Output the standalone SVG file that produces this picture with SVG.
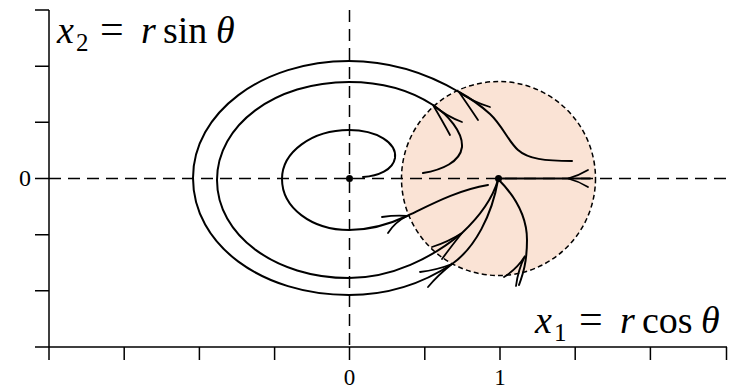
<svg xmlns="http://www.w3.org/2000/svg" width="729" height="389" viewBox="0 0 729 389">
<style>
.ax{stroke:#000;stroke-width:1.5;fill:none}
.dash{stroke:#000;stroke-width:1.5;fill:none;stroke-dasharray:12 7}
.cur{stroke:#000;stroke-width:2;fill:none;stroke-linecap:round}
.arr{stroke:#000;stroke-width:1.8;fill:none;stroke-linecap:round;stroke-linejoin:miter}
.lab{font-family:"Liberation Serif","Times New Roman",serif;fill:#000}
.it{font-style:italic}
</style>
<rect width="729" height="389" fill="#fff"/>
<g id="region">
<circle cx="498.5" cy="178.5" r="97" fill="#fae3d5" stroke="#000" stroke-width="1.5" stroke-dasharray="5 3.2"/>
</g>
<g id="axes">
<path class="ax" d="M49,10 V360 M35,347 H727"/>
<path class="ax" d="M35,10 H49 M35,66.2 H49 M35,122.3 H49 M35,178.5 H49 M35,234.7 H49 M35,290.8 H49"/>
<path class="ax" d="M124.2,347 V360 M199.4,347 V360 M274.6,347 V360 M349.5,347 V360 M424.8,347 V360 M500,347 V360 M575.2,347 V360 M650.4,347 V360 M726.5,347 V360"/>
<path class="dash" d="M49,178.5 H729"/>
<path class="dash" d="M349.5,10 V347"/>
<text class="lab" x="25" y="186" font-size="24" text-anchor="middle">0</text>
<text class="lab" x="349.5" y="385" font-size="23" text-anchor="middle">0</text>
<text class="lab" x="500" y="385" font-size="23" text-anchor="middle">1</text>
</g>
<g id="label-x2" class="lab" font-size="38">
<text x="57" y="43" class="it">x</text>
<text x="76" y="51" font-size="25">2</text>
<text x="100" y="43" font-size="42">=</text>
<text x="141" y="43" class="it">r</text>
<text x="163" y="43">sin</text>
<text x="216" y="43" class="it">θ</text>
</g>
<g id="label-x1" class="lab" font-size="38">
<text x="535" y="333" class="it">x</text>
<text x="554" y="341" font-size="25">1</text>
<text x="579" y="333" font-size="42">=</text>
<text x="620" y="333" class="it">r</text>
<text x="642" y="333">cos</text>
<text x="701" y="333" class="it">θ</text>
</g>
<g id="connectors">
<path class="cur" d="M363,177 C378,176 393,170 395,158 C397,143 377,130 349,130 C312,130 282,152 282,179 C282,208 312,230 349,230 C372,230 390,224 407,216 C432,204 458,190 488,185"/>
<path class="cur" d="M423,173 C442,170 460,162 462,147 C463,132 448,115 433,105 C410,90 382,82 349,82 C275,82 217,125 217,180 C217,235 275,278 349,278 C392,278 432,258 462,233 C478,218 492,200 498,180"/>
<path class="cur" d="M572,161 C545,161 528,159 518,150 C508,141 502,125 490,114 C480,105 470,98 459,92 C430,75 395,61 349,61 C262,61 193,113 193,178 C193,245 262,295 349,295 C390,295 425,282 452,264 C475,248 492,215 498,180"/>
<path class="cur" d="M519,285 C523,274 527,262 527,240 C527,215 514,195 498,179"/>
<path class="cur" d="M498,178.5 H590"/>
<path class="arr" d="M382,217 Q396,215 407,216 Q395,222 388,233"/>
<path class="arr" d="M462,122 Q446,116 433,105 Q443,122 450,135"/>
<path class="arr" d="M490,107 Q473,102 459,92 Q470,108 478,120"/>
<path class="arr" d="M432,247 Q448,242 462,233 Q450,248 442,259"/>
<path class="arr" d="M420,272 Q437,270 452,264 Q438,275 428,287"/>
<path class="arr" d="M504,277 Q517,269 525,256 Q518,270 516,286"/>
<path class="arr" d="M588,170 Q578,176 568,178.5 Q578,181 588,187"/>
</g>
<g id="nodes">
<circle id="origin" cx="349.5" cy="178.5" r="3.5" fill="#000"/>
<circle id="saddle" cx="498.5" cy="178.5" r="3.5" fill="#000"/>
</g>
</svg>
